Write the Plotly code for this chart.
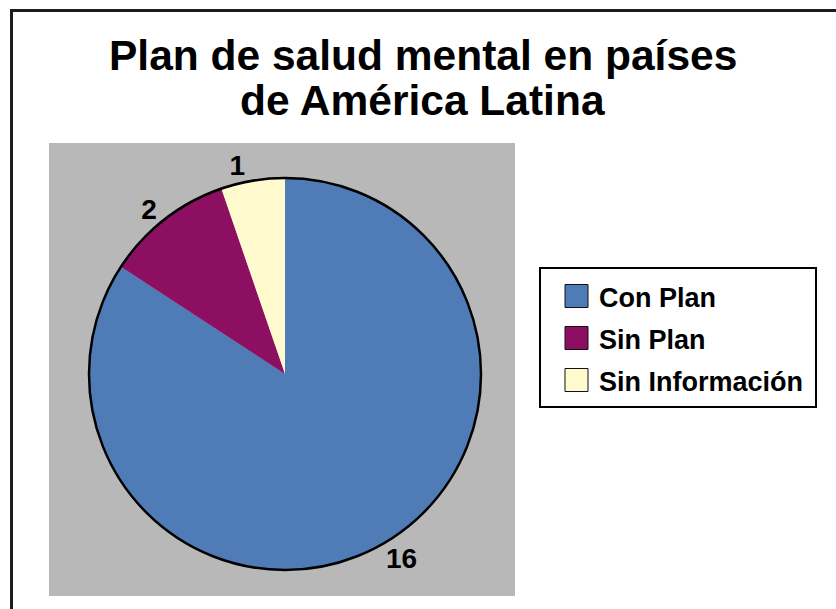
import plotly.graph_objects as go

# Data
categories = ["Con Plan", "Sin Plan", "Sin Información"]
counts = [16, 2, 1]
slice_colors = ["#4F7BB6", "#8C0F62", "#FFFBCF"]

title_lines = ["Plan de salud mental en países", "de América Latina"]

W, H = 836, 609
FONT = "Arial, Liberation Sans, sans-serif"


def px(x):
    return x / W


def py(y):
    return (H - y) / H


# Pie geometry (pixels)
cx, cy, r = 285, 374, 196
dom_x = [px(cx - r), px(cx + r)]
dom_y = [py(cy + r), py(cy - r)]

label_font = dict(family=FONT, size=28, color="black", weight="bold")

fig = go.Figure()

fig.add_trace(go.Pie(
    labels=categories,
    values=counts,
    marker=dict(colors=slice_colors, line=dict(width=0)),
    sort=False,
    direction="clockwise",
    rotation=0,
    textinfo="value",
    textposition="outside",
    textfont=label_font,
    outsidetextfont=label_font,
    domain=dict(x=dom_x, y=dom_y),
    showlegend=False,
    hoverinfo="label+value",
))

# Outer rim of the pie
fig.add_trace(go.Pie(
    values=[1],
    labels=["rim"],
    marker=dict(colors=["rgba(0,0,0,0)"], line=dict(color="black", width=2.5)),
    sort=False,
    textinfo="none",
    domain=dict(x=dom_x, y=dom_y),
    showlegend=False,
    hoverinfo="skip",
))

shapes = []
# Outer frame (top and left edges visible)
shapes.append(dict(type="rect", xref="paper", yref="paper",
                   x0=px(11.5), x1=1.05, y0=py(10.5), y1=-0.05,
                   line=dict(color="#1c1c1c", width=3), fillcolor="rgba(0,0,0,0)",
                   layer="below"))
# Grey plot area
shapes.append(dict(type="rect", xref="paper", yref="paper",
                   x0=px(49), x1=px(515), y0=py(143), y1=py(596),
                   line=dict(width=0), fillcolor="#B8B8B8", layer="below"))
# Legend box
shapes.append(dict(type="rect", xref="paper", yref="paper",
                   x0=px(540), x1=px(816), y0=py(268), y1=py(407),
                   line=dict(color="black", width=2), fillcolor="white",
                   layer="below"))

annotations = []
row0, row_gap, sw = 296, 42, 23
for i, (name, col) in enumerate(zip(categories, slice_colors)):
    yc = row0 + i * row_gap
    shapes.append(dict(type="rect", xref="paper", yref="paper",
                       x0=px(565), x1=px(565 + sw),
                       y0=py(yc - sw / 2), y1=py(yc + sw / 2),
                       line=dict(color="#111111", width=1), fillcolor=col))
    annotations.append(dict(text=name, xref="paper", yref="paper",
                            x=px(597), y=py(yc + 2), xanchor="left", yanchor="middle",
                            showarrow=False,
                            font=dict(family=FONT, size=27, color="black", weight="bold")))

for line, yc in zip(title_lines, [55, 100]):
    annotations.append(dict(text=line, xref="paper", yref="paper",
                            x=px(423), y=py(yc), xanchor="center", yanchor="middle",
                            showarrow=False,
                            font=dict(family=FONT, size=42.5, color="black", weight="bold")))

fig.update_layout(
    width=W, height=H,
    margin=dict(l=0, r=0, t=0, b=0),
    paper_bgcolor="white",
    plot_bgcolor="white",
    shapes=shapes,
    annotations=annotations,
)

fig.write_html("out.html")
